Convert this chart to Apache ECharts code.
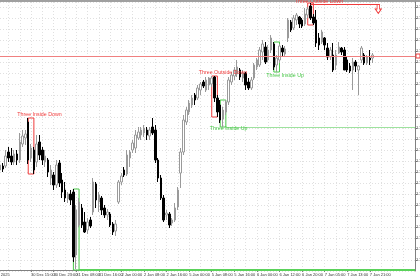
<!DOCTYPE html>
<html><head><meta charset="utf-8">
<script src="https://cdn.jsdelivr.net/npm/echarts@6/dist/echarts.min.js"></script>
<style>html,body{margin:0;padding:0;background:#fff}#c{width:420px;height:280px}</style>
</head><body><div id="c"></div>
<script>
// price values (points on the chart's price scale)
const opens  = [100,104,104,118,114,108,116,110,126,132,148,112,120,108,128,120,108,110,92,95,85,107,90,80,71,76,78,15,45,62,48,40,50,58,86,68,72,62,55,56,46,39,68,88,100,96,112,120,122,132,135,137,140,134,143,140,110,92,72,55,56,47,50,63,97,118,148,158,165,175,172,180,188,180,185,186,193,172,165,151,158,168,188,194,196,200,192,197,188,182,192,203,205,218,223,210,220,226,205,210,222,216,232,248,242,250,253,250,246,255,264,253,250,232,228,232,222,213,215,205,217,222,220,210,204,200,208,200,210,215,207,212,212];
const closes = [105,101,114,112,108,116,110,128,134,136,110,122,100,126,115,110,114,98,100,85,105,87,78,72,76,70,13,60,68,45,38,48,44,88,70,75,60,55,58,45,38,46,88,94,95,115,118,127,135,138,140,142,135,140,137,110,92,72,50,57,45,50,62,80,118,150,160,167,172,170,182,186,184,190,192,192,172,158,150,160,168,190,195,200,203,193,197,185,182,190,205,210,220,226,208,220,232,203,212,224,218,221,250,240,252,255,246,244,256,261,252,247,227,225,238,225,213,220,200,215,223,218,200,200,199,208,204,204,222,207,213,210,215];
const lows   = [97,98,102,108,105,105,105,107,123,125,106,108,96,103,110,105,103,93,85,80,82,83,72,68,67,65,8,1,43,42,37,36,42,55,62,58,55,52,50,43,35,34,66,85,93,94,103,117,117,130,130,133,130,130,135,107,88,70,48,50,42,44,48,60,82,115,145,155,162,165,170,175,182,178,180,183,168,153,147,143,155,165,185,190,193,190,188,180,180,180,190,200,203,210,206,208,217,200,198,207,214,214,228,238,240,245,242,242,244,252,250,245,223,220,226,220,210,210,198,200,216,215,200,198,197,180,198,175,207,205,205,205,207];
const highs  = [110,107,120,123,122,120,120,137,140,140,152,126,123,135,135,123,120,112,105,98,110,110,97,88,78,80,81,65,72,66,58,52,53,92,88,78,74,65,61,58,48,50,90,97,103,120,120,130,140,143,143,145,143,143,152,145,112,95,75,60,58,52,67,83,122,155,163,170,175,177,185,188,190,193,193,194,194,175,170,163,170,193,198,203,210,202,200,198,192,193,207,212,223,230,228,225,235,228,215,226,225,224,252,250,255,257,254,252,262,263,267,256,260,237,240,233,227,223,227,220,228,223,223,213,207,212,210,205,224,217,215,220,217];
const tickLabels = ["30 Dec 07:00","30 Dec 15:00","30 Dec 23:00","31 Dec 08:00","31 Dec 16:00","2 Jan 00:00","2 Jan 08:00","2 Jan 16:00","5 Jan 00:00","5 Jan 08:00","5 Jan 16:00","6 Jan 00:00","6 Jan 12:00","6 Jan 20:00","7 Jan 05:00","7 Jan 13:00","7 Jan 21:00"];
const patternNames = ["Three Inside Down","Three Inside Up","Three Outside Down","Three Inside Up","Three Inside Up","Three Outside Down"];
// pattern bars: [first bar, last bar, low, high]
const patternBars = [[10,12,96,152],[26,28,0,81],[75,77,153,194],[78,80,143,170],[97,99,198,228],[109,111,245,267]];
const patternColors = ["#f03c3c","#48c848","#f03c3c","#48c848","#48c848","#f03c3c"];
// label anchors: [bar, price]
const patternLabelAt = [[14,155],[null,null],[79,197],[81,141],[101,194],[113,268]];
const levelRed = 214;
const SLOTS = 148, FIRST_TICK = 3, TICK_STEP = 8;

const cats = [];
for (let i = 0; i < SLOTS; i++) cats.push(String(i));
const candles = opens.map((o, i) => [o, closes[i], lows[i], highs[i]]);
const RED = "#f03c3c";

const areas = patternBars.map((p, k) => [
  {xAxis: cats[p[0]], yAxis: p[2], itemStyle: {color: 'rgba(0,0,0,0)', borderColor: patternColors[k], borderWidth: 1}},
  {xAxis: cats[p[1]], yAxis: p[3]}
]);
const points = [];
patternLabelAt.forEach((a, k) => {
  if (a[0] === null) return;
  points.push({coord: [cats[a[0]], a[1]], symbol: 'circle', symbolSize: 0,
    label: {show: true, position: 'inside', formatter: patternNames[k], color: patternColors[k], fontSize: 5.3, fontFamily: 'Liberation Sans'}});
});
points.push({coord: [cats[134], 261], symbol: 'path://M3,0 L7,0 L7,6 L10,6 L5,12 L0,6 L3,6 Z', symbolSize: [6, 9],
  itemStyle: {color: '#fff', borderColor: RED, borderWidth: 1}, label: {show: false}});
points.push({coord: [cats[SLOTS - 1], levelRed], symbol: 'rect', symbolSize: [4, 4], symbolOffset: [3, 0],
  itemStyle: {color: '#fff', borderColor: RED, borderWidth: 1}, label: {show: false}});

const lines = [
  {yAxis: levelRed, lineStyle: {color: '#f08080', width: 1, type: 'solid'}},
  [{coord: [cats[28], 0], lineStyle: {color: '#5ad25a', width: 2, type: 'solid'}}, {coord: [cats[SLOTS - 1], 0]}],
  [{coord: [cats[80], 143], lineStyle: {color: '#9ee29e', width: 1, type: 'solid'}}, {coord: [cats[SLOTS - 1], 143]}],
  [{coord: [cats[110], 266], lineStyle: {color: RED, width: 1, type: 'solid'}}, {coord: [cats[134], 266]}]
];

const chart = echarts.init(document.getElementById('c'), null, {renderer: 'canvas'});
const isTick = idx => idx >= FIRST_TICK && (idx - FIRST_TICK) % TICK_STEP === 0 && (idx - FIRST_TICK) / TICK_STEP < tickLabels.length;
chart.setOption({
  animation: false,
  backgroundColor: '#ffffff',
  textStyle: {fontFamily: 'Liberation Sans'},
  grid: {left: 0, right: 5, top: 2, bottom: 9, containLabel: false, outerBoundsMode: 'none'},
  xAxis: {
    type: 'category', data: cats, boundaryGap: false,
    axisLine: {show: true, lineStyle: {color: '#808080', width: 1}},
    axisTick: {show: true, length: 2, interval: (i) => isTick(i), lineStyle: {color: '#808080'}},
    axisLabel: {show: true, interval: (i) => isTick(i), align: 'left', margin: 2, fontSize: 4, color: '#333', hideOverlap: false,
      formatter: (v, i) => isTick(i) ? tickLabels[(i - FIRST_TICK) / TICK_STEP] : ''},
    splitLine: {show: true, interval: (i) => i % 4 === 3, lineStyle: {color: '#e0e0e0', type: [1, 2], width: 1}}
  },
  yAxis: {
    type: 'value', position: 'right', min: -1, max: 268, interval: 11, scale: false,
    axisLine: {show: true, lineStyle: {color: '#808080', width: 1}},
    axisTick: {show: true, length: 2, lineStyle: {color: '#808080'}},
    axisLabel: {show: true, fontSize: 4, margin: 1, color: '#333', showMinLabel: false, showMaxLabel: false,
      formatter: v => (1.3400 + (v + 1) / 11 * 0.0005).toFixed(5)},
    splitLine: {show: true, lineStyle: {color: '#e0e0e0', type: [1, 2], width: 1}}
  },
  series: [{
    type: 'candlestick', data: candles, barWidth: 2,
    itemStyle: {color: '#ffffff', color0: '#000000', borderColor: '#9a9a9a', borderColor0: '#000000', borderWidth: 1},
    markArea: {silent: true, data: areas},
    markLine: {silent: true, symbol: 'none', label: {show: false}, data: lines},
    markPoint: {silent: true, data: points}
  }],
  graphic: [
    {type: 'rect', left: 0, top: 0, shape: {width: 420, height: 2}, style: {fill: '#a0a0a0'}, silent: true},
    {type: 'text', x: -13, y: 273, style: {text: '30 Dec 2025', fontSize: 4, fill: '#333', fontFamily: 'Liberation Sans'}, silent: true}
  ]
});
</script>
</body></html>
